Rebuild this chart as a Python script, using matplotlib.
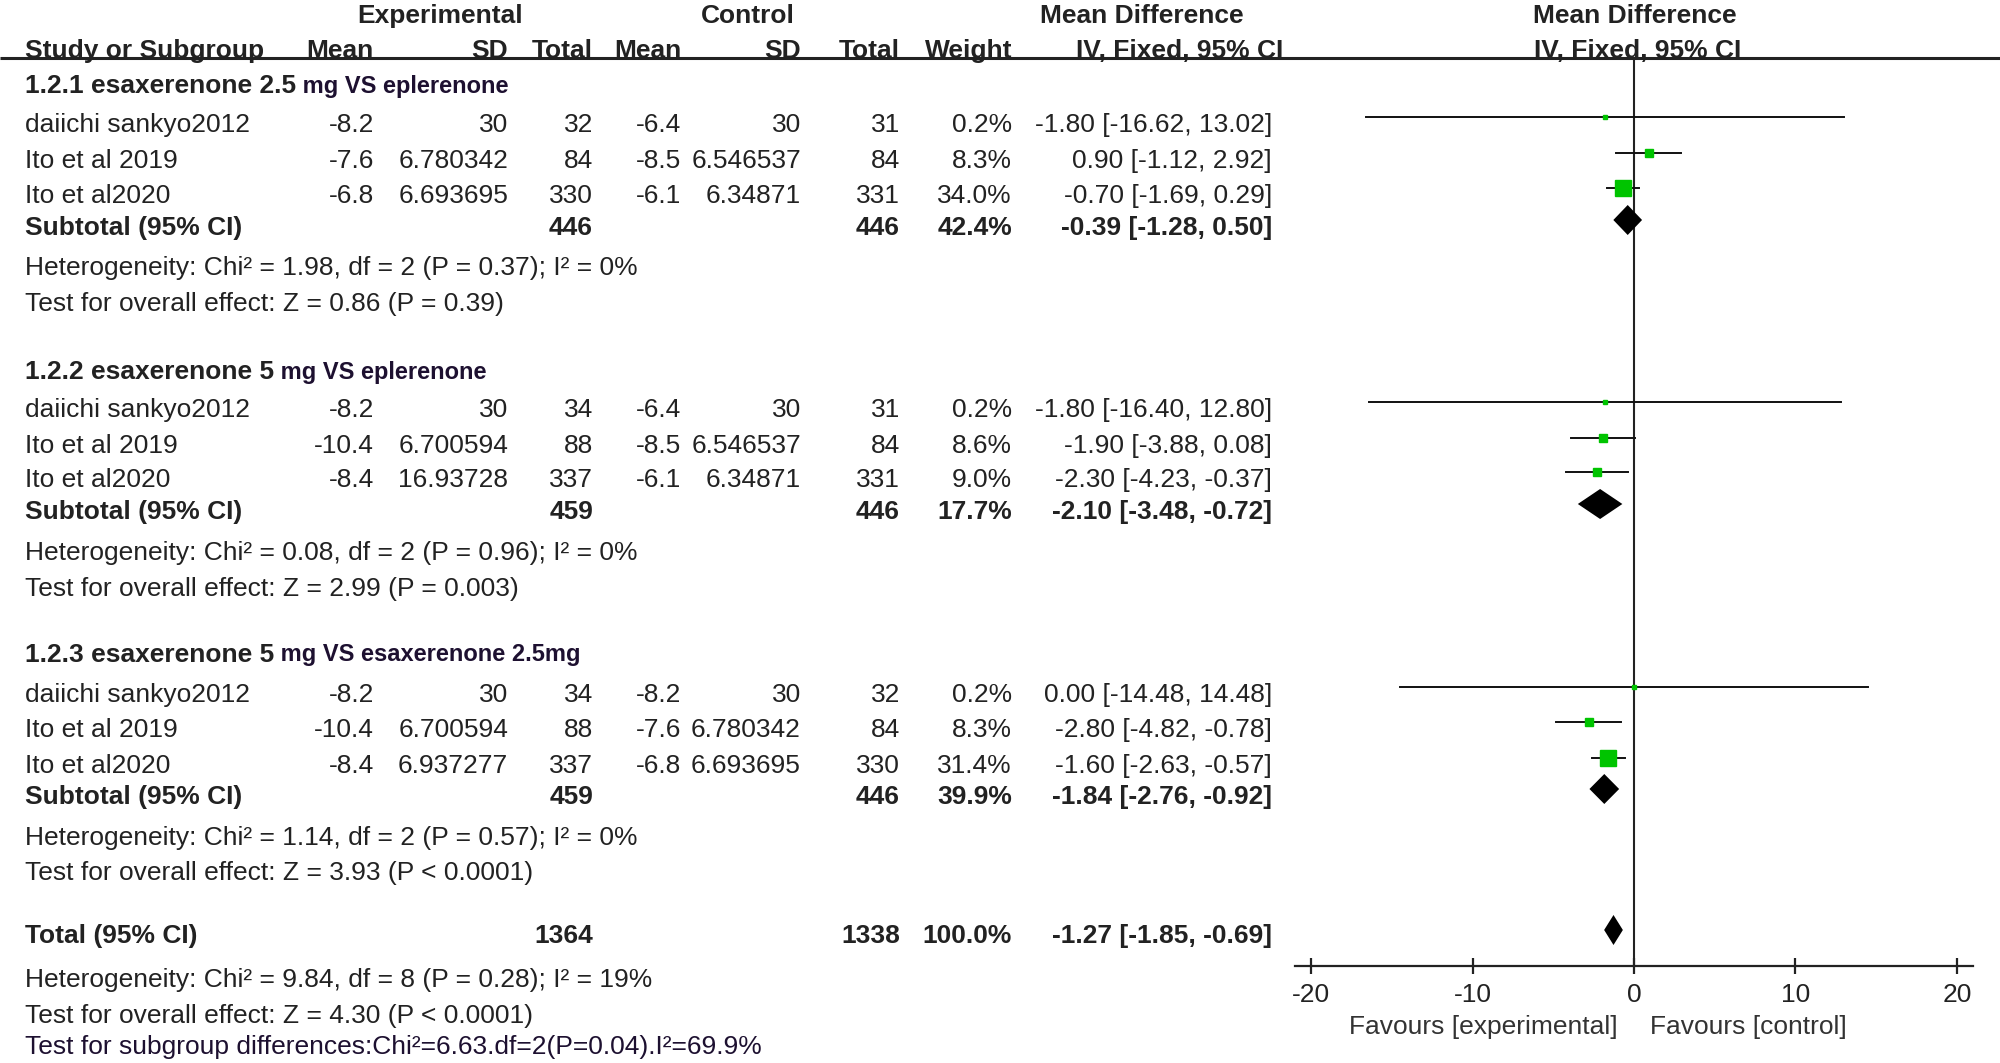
import matplotlib
matplotlib.use("Agg")
import matplotlib.pyplot as plt

plt.rcParams['font.family'] = ['Liberation Sans', 'DejaVu Sans']

# ---- data ----
group_titles = ['1.2.1 esaxerenone 2.5', '1.2.2 esaxerenone 5', '1.2.3 esaxerenone 5']
group_suffix = ['mg VS eplerenone', 'mg VS eplerenone', 'mg VS esaxerenone 2.5mg']

studies = [['daiichi sankyo2012', 'Ito et al 2019', 'Ito et al2020']] * 3

exp_mean = [[-8.2, -7.6, -6.8], [-8.2, -10.4, -8.4], [-8.2, -10.4, -8.4]]
exp_sd = [[30, 6.780342, 6.693695], [30, 6.700594, 16.93728], [30, 6.700594, 6.937277]]
exp_n = [[32, 84, 330], [34, 88, 337], [34, 88, 337]]
ctl_mean = [[-6.4, -8.5, -6.1], [-6.4, -8.5, -6.1], [-8.2, -7.6, -6.8]]
ctl_sd = [[30, 6.546537, 6.34871], [30, 6.546537, 6.34871], [30, 6.780342, 6.693695]]
ctl_n = [[31, 84, 331], [31, 84, 331], [32, 84, 330]]
weight = [[0.2, 8.3, 34.0], [0.2, 8.6, 9.0], [0.2, 8.3, 31.4]]
md = [[-1.80, 0.90, -0.70], [-1.80, -1.90, -2.30], [0.00, -2.80, -1.60]]
ci_lo = [[-16.62, -1.12, -1.69], [-16.40, -3.88, -4.23], [-14.48, -4.82, -2.63]]
ci_hi = [[13.02, 2.92, 0.29], [12.80, 0.08, -0.37], [14.48, -0.78, -0.57]]

sub_exp_n = [446, 459, 459]
sub_ctl_n = [446, 446, 446]
sub_weight = [42.4, 17.7, 39.9]
sub_md = [-0.39, -2.10, -1.84]
sub_lo = [-1.28, -3.48, -2.76]
sub_hi = [0.50, -0.72, -0.92]
sub_het = ['Heterogeneity: Chi\u00b2 = 1.98, df = 2 (P = 0.37); I\u00b2 = 0%',
           'Heterogeneity: Chi\u00b2 = 0.08, df = 2 (P = 0.96); I\u00b2 = 0%',
           'Heterogeneity: Chi\u00b2 = 1.14, df = 2 (P = 0.57); I\u00b2 = 0%']
sub_test = ['Test for overall effect: Z = 0.86 (P = 0.39)',
            'Test for overall effect: Z = 2.99 (P = 0.003)',
            'Test for overall effect: Z = 3.93 (P < 0.0001)']

tot_exp_n = 1364
tot_ctl_n = 1338
tot_weight = 100.0
tot_md, tot_lo, tot_hi = -1.27, -1.85, -0.69
tot_het = 'Heterogeneity: Chi\u00b2 = 9.84, df = 8 (P = 0.28); I\u00b2 = 19%'
tot_test = 'Test for overall effect: Z = 4.30 (P < 0.0001)'
subgroup_test = 'Test for subgroup differences:Chi\u00b2=6.63.df=2(P=0.04).I\u00b2=69.9%'

xticks = [-20, -10, 0, 10, 20]

# ---- layout (pixel rows from top) ----
W, H = 2000, 1063
group_rows = [[86, 125, 161, 196, 228, 268, 304],
              [372, 410, 446, 480, 512, 553, 589],
              [655, 695, 730, 766, 797, 838, 873]]
total_rows = [936, 980, 1016, 1047]
axis_y, top_y = 966, 58

col_mean_e, col_sd_e, col_n_e = 374, 508, 593
col_mean_c, col_sd_c, col_n_c = 681, 801, 900
col_w, col_ci = 1012, 1272

TXT = '#222222'
DARK = '#1d1030'
GREEN = '#00c400'
FS = 19

fig = plt.figure(figsize=(W / 100, H / 100), dpi=100)
ax = fig.add_axes([0, 0, 1, 1])
ax.set_xlim(0, W)
ax.set_ylim(H, 0)
ax.axis('off')

fx = fig.add_axes([1295 / W, (H - axis_y) / H, 678 / W, (axis_y - top_y) / H])
fx.set_xlim(-21, 21)
fx.set_ylim(axis_y, top_y)
fx.patch.set_alpha(0)


def t(x, y, s, ha='right', bold=False, color=TXT, size=FS):
    return ax.text(x, y, s, ha=ha, va='center', fontsize=size, color=color,
                   fontweight='bold' if bold else 'normal')


# headers
t(440, 16, 'Experimental', ha='center', bold=True)
t(748, 16, 'Control', ha='center', bold=True)
t(1142, 16, 'Mean Difference', ha='center', bold=True)
t(1635, 16, 'Mean Difference', ha='center', bold=True)
hy = 51
t(25, hy, 'Study or Subgroup', ha='left', bold=True)
t(col_mean_e, hy, 'Mean', bold=True)
t(col_sd_e, hy, 'SD', bold=True)
t(col_n_e, hy, 'Total', bold=True)
t(col_mean_c, hy, 'Mean', bold=True)
t(col_sd_c, hy, 'SD', bold=True)
t(col_n_c, hy, 'Total', bold=True)
t(col_w, hy, 'Weight', bold=True)
t(1283, hy, 'IV, Fixed, 95% CI', bold=True)
t(1638, hy, 'IV, Fixed, 95% CI', ha='center', bold=True)
ax.plot([0, W], [top_y, top_y], color='#222222', lw=2.2, solid_capstyle='butt')

# groups
for g in range(3):
    rows = group_rows[g]
    t1 = t(25, rows[0], group_titles[g], ha='left', bold=True)
    ax.annotate(' ' + group_suffix[g], xy=(1, 0.5), xycoords=t1, va='center', ha='left',
                fontsize=17, fontweight='bold', color=DARK)
    for i in range(3):
        y = rows[1 + i]
        t(25, y, studies[g][i], ha='left')
        t(col_mean_e, y, str(exp_mean[g][i]))
        t(col_sd_e, y, str(exp_sd[g][i]))
        t(col_n_e, y, str(exp_n[g][i]))
        t(col_mean_c, y, str(ctl_mean[g][i]))
        t(col_sd_c, y, str(ctl_sd[g][i]))
        t(col_n_c, y, str(ctl_n[g][i]))
        t(col_w, y, f'{weight[g][i]:.1f}%')
        t(col_ci, y, f'{md[g][i]:.2f} [{ci_lo[g][i]:.2f}, {ci_hi[g][i]:.2f}]')
        my = y - 8
        fx.plot([ci_lo[g][i], ci_hi[g][i]], [my, my], color='#111111', lw=1.4, zorder=2)
        ms = max(1.95 * weight[g][i] ** 0.5, 3.2)
        fx.plot(md[g][i], my, marker='s', ms=ms, color=GREEN, mec=GREEN, zorder=3)
    y = rows[4]
    t(25, y, 'Subtotal (95% CI)', ha='left', bold=True)
    t(col_n_e, y, str(sub_exp_n[g]), bold=True)
    t(col_n_c, y, str(sub_ctl_n[g]), bold=True)
    t(col_w, y, f'{sub_weight[g]:.1f}%', bold=True)
    t(col_ci, y, f'{sub_md[g]:.2f} [{sub_lo[g]:.2f}, {sub_hi[g]:.2f}]', bold=True)
    dy = y - 8
    fx.fill([sub_lo[g], sub_md[g], sub_hi[g], sub_md[g]], [dy, dy - 15, dy, dy + 15],
            color='black', lw=0, zorder=3)
    t(25, rows[5], sub_het[g], ha='left')
    t(25, rows[6], sub_test[g], ha='left')

# overall
y = total_rows[0]
t(25, y, 'Total (95% CI)', ha='left', bold=True)
t(col_n_e, y, str(tot_exp_n), bold=True)
t(col_n_c, y, str(tot_ctl_n), bold=True)
t(col_w, y, f'{tot_weight:.1f}%', bold=True)
t(col_ci, y, f'{tot_md:.2f} [{tot_lo:.2f}, {tot_hi:.2f}]', bold=True)
dy = y - 6
fx.fill([tot_lo, tot_md, tot_hi, tot_md], [dy, dy - 15, dy, dy + 15], color='black', lw=0, zorder=3)
t(25, total_rows[1], tot_het, ha='left')
t(25, total_rows[2], tot_test, ha='left')
t(25, total_rows[3], subgroup_test, ha='left', color=DARK, size=19)

# forest axis
fx.axvline(0, color='#222222', lw=1.5, zorder=1)
for s in ['top', 'right', 'left']:
    fx.spines[s].set_visible(False)
fx.spines['bottom'].set_linewidth(1.6)
fx.spines['bottom'].set_color('#222222')
fx.set_yticks([])
fx.set_xticks(xticks)
fx.set_xticklabels([str(v) for v in xticks])
fx.tick_params(axis='x', direction='inout', length=12, width=1.6, color='#222222',
               labelsize=FS, labelcolor=TXT, pad=6)
fx.text(-1.0, 1027, 'Favours [experimental]', ha='right', va='center', fontsize=FS, color='#333333',
        clip_on=False)
fx.text(1.0, 1027, 'Favours [control]', ha='left', va='center', fontsize=FS, color='#333333',
        clip_on=False)

fig.savefig('out.png', dpi=100)
